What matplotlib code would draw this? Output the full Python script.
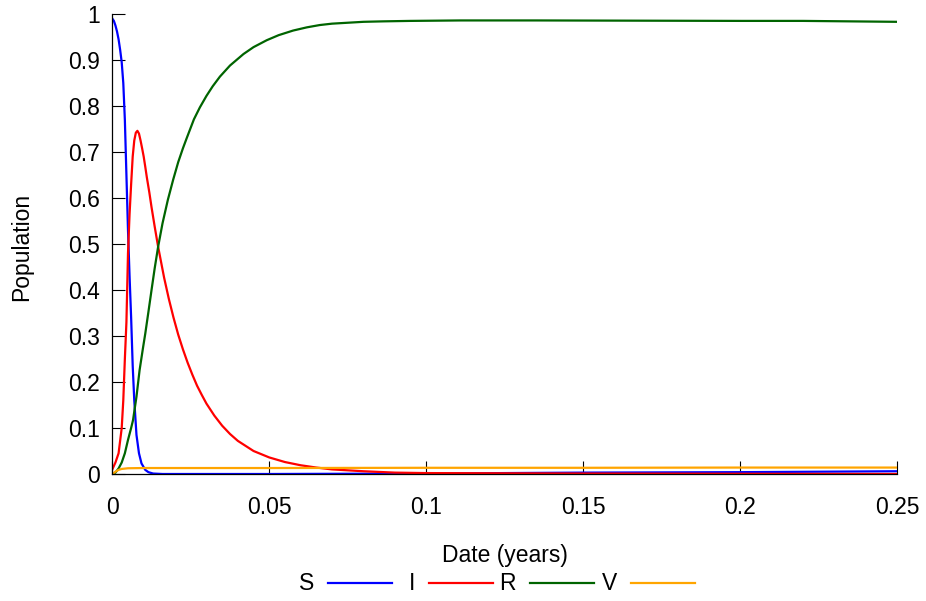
import matplotlib
matplotlib.use("Agg")
import matplotlib.pyplot as plt
from matplotlib.lines import Line2D

plt.rcParams["font.family"] = ["Liberation Sans", "DejaVu Sans"]

# ---------------------------------------------------------------------------
# Data
# ---------------------------------------------------------------------------

S_T = [0, 0.0005, 0.001, 0.0015, 0.002, 0.0025, 0.003, 0.0035, 0.004, 0.0045,
       0.005, 0.0055, 0.006, 0.0065, 0.007, 0.0077, 0.0085, 0.0093, 0.0105,
       0.0115, 0.013, 0.016, 0.05, 0.1, 0.15, 0.2, 0.25]
S_V = [0.99, 0.985, 0.975, 0.962, 0.945, 0.922, 0.895, 0.85, 0.77, 0.65,
       0.53, 0.43, 0.34, 0.235, 0.16, 0.085, 0.045, 0.023, 0.009,
       0.004, 0.001, 0.0, 0.0, 0.001, 0.003, 0.004, 0.006]

I_T = [0, 0.001, 0.002, 0.003, 0.0035, 0.004, 0.0045, 0.005, 0.0055, 0.006,
       0.0065, 0.007, 0.0075, 0.008, 0.0085, 0.009, 0.0095, 0.010, 0.0105,
       0.011, 0.0118, 0.0125, 0.0135, 0.0146, 0.0165, 0.018, 0.0195, 0.021,
       0.0225, 0.024, 0.0255, 0.027, 0.0285, 0.030, 0.0325, 0.035, 0.0375,
       0.040, 0.045, 0.050, 0.055, 0.060, 0.065, 0.070,
       0.075, 0.080, 0.09, 0.1, 0.15, 0.25]
I_V = [0.01, 0.025, 0.045, 0.10, 0.16, 0.25, 0.33, 0.48, 0.565, 0.63,
       0.69, 0.725, 0.742, 0.746, 0.74, 0.725, 0.708, 0.69, 0.668,
       0.645, 0.612, 0.58, 0.538, 0.494, 0.427, 0.381, 0.340, 0.303,
       0.271, 0.242, 0.216, 0.192, 0.172, 0.153, 0.127, 0.105, 0.087,
       0.072, 0.050, 0.036, 0.026, 0.019, 0.014, 0.010,
       0.008, 0.006, 0.003, 0.002, 0.001, 0.0]

R_T = [0, 0.001, 0.002, 0.003, 0.004, 0.005, 0.006, 0.0066, 0.0077, 0.0087,
       0.0098, 0.0105, 0.0115, 0.0125, 0.0135, 0.0146, 0.016, 0.0177, 0.0194,
       0.021, 0.0225, 0.0237, 0.026, 0.0279, 0.030, 0.032, 0.0343, 0.0375,
       0.0418, 0.045, 0.0492, 0.053, 0.0576, 0.062, 0.0661, 0.070, 0.075,
       0.080, 0.0862, 0.095, 0.111, 0.135, 0.2, 0.22, 0.25]
R_V = [0.0, 0.003, 0.012, 0.025, 0.045, 0.074, 0.10, 0.117, 0.168, 0.226,
       0.275, 0.305, 0.352, 0.40, 0.447, 0.494, 0.545, 0.596, 0.64,
       0.678, 0.708, 0.73, 0.771, 0.797, 0.822, 0.843, 0.864, 0.888,
       0.913, 0.928, 0.943, 0.954, 0.964, 0.971, 0.976, 0.979, 0.981,
       0.983, 0.984, 0.985, 0.986, 0.986, 0.985, 0.985, 0.983]

V_T = [0, 0.001, 0.002, 0.003, 0.005, 0.01, 0.05, 0.1, 0.15, 0.2, 0.25]
V_V = [0.0, 0.005, 0.009, 0.011, 0.0125, 0.013, 0.013, 0.0135, 0.0135, 0.014, 0.014]

SERIES = [("S", S_T, S_V, "#0000ff"),
          ("I", I_T, I_V, "#ff0000"),
          ("R", R_T, R_V, "#006400"),
          ("V", V_T, V_V, "#ffa500")]

X_TICKS = [0, 0.05, 0.1, 0.15, 0.2, 0.25]
X_LABELS = ["0", "0.05", "0.1", "0.15", "0.2", "0.25"]
Y_TICKS = [0, 0.1, 0.2, 0.3, 0.4, 0.5, 0.6, 0.7, 0.8, 0.9, 1.0]
Y_LABELS = ["0", "0.1", "0.2", "0.3", "0.4", "0.5", "0.6", "0.7", "0.8", "0.9", "1"]

FS = 16.5
W, H = 926, 601

# ---------------------------------------------------------------------------
# Plot
# ---------------------------------------------------------------------------

fig = plt.figure(figsize=(W / 100, H / 100), dpi=100)
ax = fig.add_axes([112.3 / W, 127 / H, 784.7 / W, 460 / H])

for name, t, v, color in SERIES:
    ax.plot(t, v, color=color, linewidth=1.6, label=name)

ax.set_xlim(0, 0.25)
ax.set_ylim(0, 1)
ax.set_xticks(X_TICKS)
ax.set_xticklabels(X_LABELS)
ax.set_yticks(Y_TICKS)
ax.set_yticklabels(Y_LABELS)

for side in ("top", "right"):
    ax.spines[side].set_visible(False)
for side in ("left", "bottom"):
    ax.spines[side].set_linewidth(0.9)
    ax.spines[side].set_color("black")

ax.tick_params(axis="both", direction="in", length=9.5, width=0.8,
               labelsize=FS, colors="black")
ax.tick_params(axis="x", pad=16)
ax.tick_params(axis="y", pad=9)

ax.set_xlabel("Date (years)", fontsize=FS)
ax.xaxis.label.set_va("center")
ax.xaxis.set_label_coords(0.5, -0.178)
ax.set_ylabel("Population", fontsize=FS)
ax.yaxis.label.set_va("center")
ax.yaxis.set_label_coords(-0.115, 0.493)

# gnuplot-style key: right-aligned label, then sample line
key_y = 1 - 583 / H
for i, (name, t, v, color) in enumerate(SERIES):
    x_txt = (314 + 101 * i) / W
    fig.text(x_txt, key_y, name, ha="right", va="center", fontsize=FS)
    fig.add_artist(Line2D([(328 + 101 * i) / W, (392 + 101 * i) / W],
                          [key_y, key_y], color=color, linewidth=1.6))

fig.savefig("out.png", dpi=100)
